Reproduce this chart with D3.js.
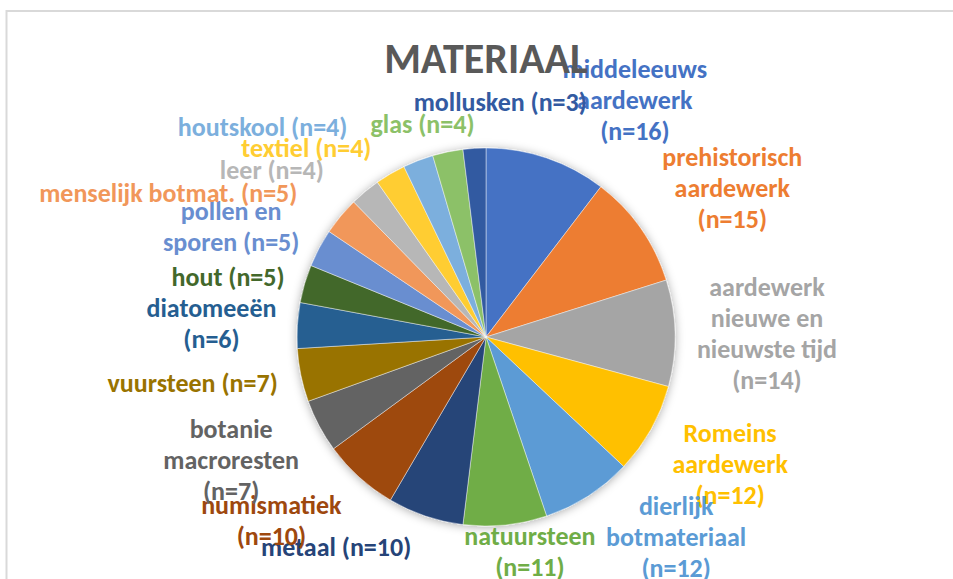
<!DOCTYPE html>
<html>
<head>
<meta charset="utf-8">
<script src="https://cdn.jsdelivr.net/npm/d3@7"></script>
<style>
  html, body { margin: 0; padding: 0; background: #fff; }
  svg { display: block; }
  text { font-family: Carlito, Lato, "Open Sans", sans-serif; font-weight: 700; }
</style>
</head>
<body>
<svg id="chart" width="953" height="579"></svg>
<script>
// Find categories, clockwise from 12 o'clock
const categories = [
  "middeleeuws aardewerk", "prehistorisch aardewerk", "aardewerk nieuwe en nieuwste tijd",
  "Romeins aardewerk", "dierlijk botmateriaal", "natuursteen", "metaal", "numismatiek",
  "botanie macroresten", "vuursteen", "diatomeeën", "hout", "pollen en sporen",
  "menselijk botmat.", "leer", "textiel", "houtskool", "glas", "mollusken"
];
// Number of finds (n) per category
const counts = [16, 15, 14, 12, 12, 11, 10, 10, 7, 7, 6, 5, 5, 5, 4, 4, 4, 4, 3];
// Office palette, one colour per slice
const colors = [
  "#4472C4", "#ED7D31", "#A5A5A5", "#FFC000", "#5B9BD5", "#70AD47", "#264478", "#9E480E",
  "#636363", "#997300", "#255E91", "#43682B", "#698ED0", "#F1975A", "#B7B7B7", "#FFCD33",
  "#7CAFDD", "#8CC168", "#335AA1"
];
const title = "MATERIAAL";

// Label layout: words per line, and a nudge from the label-ring centroid
const lineWords = [
  [1,1,1], [1,1,1], [1,2,2,1], [1,1,1], [1,1,1], [1,1], [2], [1,1], [1,1,1], [2],
  [1,1], [2], [2,2], [3], [2], [2], [2], [2], [2]
];
const nudges = [
  [61, 22], [22, 8], [7, 2], [5, -7], [42, -31], [16, -58], [-62, -50], [-31, -20],
  [-13, -6], [-25, -10], [-1, 3], [5, 17], [-13, 18], [-107, 31], [-39, 44],
  [-41, 47], [-125, 46], [-8, 55], [31, 38]
];

const W = 953, H = 579;
const cx = 486, cy = 337, radius = 189;
const svg = d3.select("#chart");

// chart area frame
svg.append("rect")
  .attr("x", 6.5).attr("y", 11)
  .attr("width", 1200).attr("height", 1200)
  .attr("fill", "#fff")
  .attr("stroke", "#d9d9d9").attr("stroke-width", 2);

const defs = svg.append("defs");
const shadow = defs.append("filter").attr("id", "pieShadow")
  .attr("x", "-20%").attr("y", "-20%").attr("width", "140%").attr("height", "140%");
shadow.append("feDropShadow")
  .attr("dx", 0).attr("dy", 1).attr("stdDeviation", 5)
  .attr("flood-color", "#000").attr("flood-opacity", 0.33);

const data = categories.map((c, i) => ({ name: c, n: counts[i], color: colors[i], i }));

const pie = d3.pie().value(d => d.n).sort(null);
const arcs = pie(data);
const arc = d3.arc().innerRadius(0).outerRadius(radius);
const labelArc = d3.arc().innerRadius(radius * 1.45).outerRadius(radius * 1.45);

const g = svg.append("g").attr("transform", `translate(${cx},${cy})`);

g.append("g").attr("filter", "url(#pieShadow)")
  .selectAll("path")
  .data(arcs)
  .join("path")
  .attr("d", arc)
  .attr("fill", d => d.data.color)
  .attr("stroke", "rgba(255,255,255,0.55)")
  .attr("stroke-width", 0.8);

// title
svg.append("text")
  .attr("x", cx).attr("y", 73)
  .attr("text-anchor", "middle")
  .attr("fill", "#595959")
  .attr("font-size", 42)
  .text(title);

// data labels
const fontSize = 26, lineH = 31;
const labels = g.append("g");
arcs.forEach((a, i) => {
  const words = `${a.data.name} (n=${a.data.n})`.split(" ");
  const lines = [];
  let k = 0;
  lineWords[i].forEach(cnt => { lines.push(words.slice(k, k + cnt).join(" ")); k += cnt; });
  const [bx, by] = labelArc.centroid(a);
  const x = bx + nudges[i][0], y = by + nudges[i][1];
  const t = labels.append("text")
    .attr("text-anchor", "middle")
    .attr("fill", a.data.color)
    .attr("font-size", fontSize);
  const top = y - (lines.length - 1) * lineH / 2;
  lines.forEach((ln, j) => {
    t.append("tspan").attr("x", x).attr("y", top + j * lineH).attr("dy", "0.35em").text(ln);
  });
});
</script>
</body>
</html>
